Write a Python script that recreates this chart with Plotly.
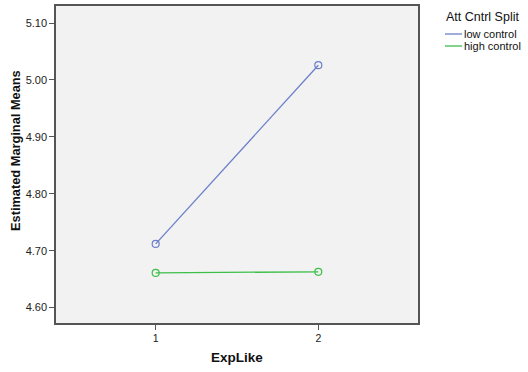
import plotly.graph_objects as go

# Estimated marginal means by ExpLike level, split by attitude control group
explike = [1, 2]
series_names = ["low control", "high control"]
low_control = [4.712, 5.026]
high_control = [4.661, 4.663]
series_colors = ["#6b7fc9", "#3dbf4a"]
y_ticks = [4.60, 4.70, 4.80, 4.90, 5.00, 5.10]
legend_title = "Att Cntrl Split"
x_title = "ExpLike"
y_title = "Estimated Marginal Means"

W, H = 528, 372
L, R, T, B = 56, 110, 6, 49
PW, PH = W - L - R, H - T - B


def px(x):
    return (x - L) / PW


def py(y):
    return (H - B - y) / PH


fig = go.Figure()
for name, vals, col in zip(series_names, [low_control, high_control], series_colors):
    fig.add_trace(go.Scatter(
        x=explike, y=vals, name=name, mode="lines+markers",
        line=dict(color=col, width=1.3),
        marker=dict(symbol="circle-open", size=7, color=col, line=dict(width=1.2)),
        showlegend=False,
    ))

# Axis titles as free annotations so they can sit exactly where wanted
annotations = [
    dict(text=f"<b>{x_title}</b>", xref="paper", yref="paper", x=px(237), y=py(357),
         xanchor="center", yanchor="middle", showarrow=False,
         font=dict(size=13.5, color="#111")),
    dict(text=f"<b>{y_title}</b>", xref="paper", yref="paper", x=px(15), y=py(151),
         xanchor="center", yanchor="middle", showarrow=False, textangle=-90,
         font=dict(size=12.8, color="#111")),
]

# Legend drawn as annotations and short line samples to the right of the plot
annotations.append(dict(
    text=legend_title, xref="paper", yref="paper", x=px(444), y=py(17),
    xanchor="left", yanchor="middle", showarrow=False,
    font=dict(size=12.5, color="#111"),
))
shapes = []
for i, (name, col) in enumerate(zip(series_names, series_colors)):
    yy = 34 + i * 12
    shapes.append(dict(
        type="line", xref="paper", yref="paper",
        x0=px(445), x1=px(462), y0=py(yy), y1=py(yy),
        line=dict(color=col, width=1.3),
    ))
    annotations.append(dict(
        text=name, xref="paper", yref="paper", x=px(462), y=py(yy),
        xanchor="left", yanchor="middle", showarrow=False,
        font=dict(size=11, color="#111"),
    ))

fig.update_layout(
    width=W, height=H,
    margin=dict(l=L, r=R, t=T, b=B, autoexpand=False),
    paper_bgcolor="white",
    plot_bgcolor="#f2f2f2",
    font=dict(family="Liberation Sans", color="#222"),
    showlegend=False,
    annotations=annotations,
    shapes=shapes,
)
fig.update_xaxes(
    range=[0.387, 2.613], tickvals=explike, ticktext=[str(v) for v in explike],
    ticks="outside", ticklen=5, tickcolor="#555", tickfont=dict(size=10.5),
    showgrid=False, zeroline=False, showline=True, linecolor="#555", linewidth=1.5,
    mirror=True,
)
fig.update_yaxes(
    range=[4.573, 5.13], tickvals=y_ticks, tickformat=".2f",
    ticks="outside", ticklen=5, tickcolor="#555", tickfont=dict(size=11),
    showgrid=False, zeroline=False, showline=True, linecolor="#555", linewidth=1.5,
    mirror=True,
)

fig.write_html("out.html")
